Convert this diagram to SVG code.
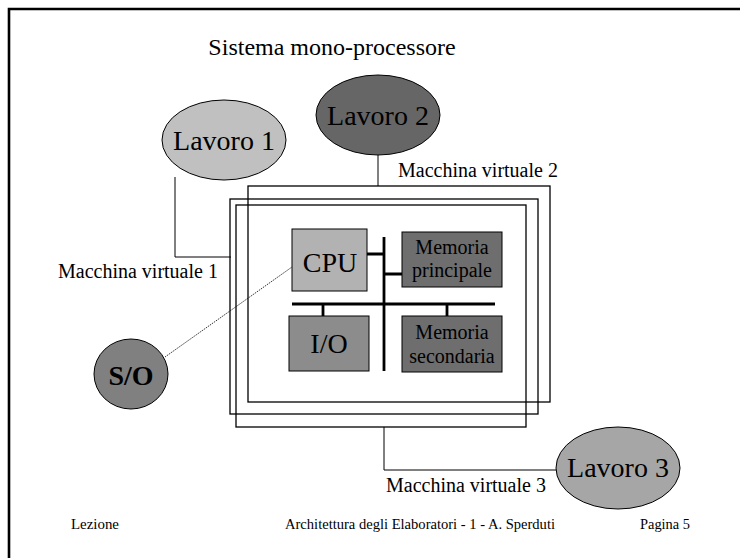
<svg xmlns="http://www.w3.org/2000/svg" width="740" height="558" viewBox="0 0 740 558">
<style>
text{font-family:"Liberation Serif","Times New Roman",serif;fill:#000}
.big{font-size:28px;text-anchor:middle}
.title{font-size:24px;text-anchor:middle}
.mid{font-size:20px}
.box{font-size:20px;text-anchor:middle}
.foot{font-size:14px}
.frame{fill:none;stroke:#000;stroke-width:1.3}
.node{stroke:#000;stroke-width:1}
.bus{stroke:#000;stroke-width:2.8;fill:none}
.wire{stroke:#000;stroke-width:1;fill:none}
</style>
<rect width="740" height="558" fill="#fff"/>
<g id="page-frame">
<path d="M9 558 V9 H740" fill="none" stroke="#000" stroke-width="2.6"/>
</g>
<text id="title" x="332" y="55" class="title">Sistema mono-processore</text>
<g id="connectors">
<path class="wire" d="M175 177 V257 H231"/>
<path class="wire" d="M378 155 V186"/>
<path class="wire" d="M384 427 V470 H557"/>
<path d="M165 357 L292 267" stroke="#000" stroke-width="0.8" stroke-dasharray="1.5 1" fill="none"/>
<path class="bus" d="M384 237 V371 M292 304 H495 M367 254 H384 M384 274 H402 M323 304 V316 M447 304 V316"/>
</g>
<g id="vm2"><rect class="frame" x="248" y="186" width="302" height="216"/></g>
<g id="vm1"><rect class="frame" x="230" y="199" width="308" height="215"/></g>
<g id="vm3"><rect class="frame" x="236" y="205" width="290" height="222"/></g>
<g id="lavoro1">
<ellipse class="node" cx="224" cy="140" rx="62" ry="40" fill="#c0c0c0"/>
<text x="224" y="150" class="big">Lavoro 1</text>
</g>
<g id="lavoro2">
<ellipse class="node" cx="378" cy="115" rx="62" ry="40" fill="#666"/>
<text x="378" y="125" class="big">Lavoro 2</text>
</g>
<g id="lavoro3">
<ellipse class="node" cx="618" cy="468" rx="62" ry="41" fill="#a6a6a6"/>
<text x="618" y="477" class="big">Lavoro 3</text>
</g>
<g id="so">
<ellipse class="node" cx="131" cy="374" rx="37" ry="35" fill="#808080"/>
<text x="131" y="385" class="big" font-weight="bold">S/O</text>
</g>
<g id="cpu">
<rect class="node" x="292" y="229" width="75" height="62" fill="#b2b2b2"/>
<text x="330" y="272" class="big">CPU</text>
</g>
<g id="mem-principale">
<rect class="node" x="402" y="232" width="100" height="55" fill="#6e6e6e"/>
<text x="452" y="254" class="box">Memoria</text>
<text x="452" y="277" class="box">principale</text>
</g>
<g id="io">
<rect class="node" x="289" y="316" width="80" height="55" fill="#8c8c8c"/>
<text x="329" y="353" class="big">I/O</text>
</g>
<g id="mem-secondaria">
<rect class="node" x="402" y="316" width="100" height="56" fill="#6e6e6e"/>
<text x="452" y="339" class="box">Memoria</text>
<text x="452" y="363" class="box">secondaria</text>
</g>
<text x="398" y="177" class="mid">Macchina virtuale 2</text>
<text x="58" y="278" class="mid">Macchina virtuale 1</text>
<text x="386" y="492" class="mid">Macchina virtuale 3</text>
<g id="footer">
<text x="71" y="529" class="foot" textLength="48" lengthAdjust="spacingAndGlyphs">Lezione</text>
<text x="285" y="529" class="foot" textLength="270" lengthAdjust="spacingAndGlyphs">Architettura degli Elaboratori - 1 - A. Sperduti</text>
<text x="640" y="529" class="foot" textLength="50" lengthAdjust="spacingAndGlyphs">Pagina 5</text>
</g>
</svg>
